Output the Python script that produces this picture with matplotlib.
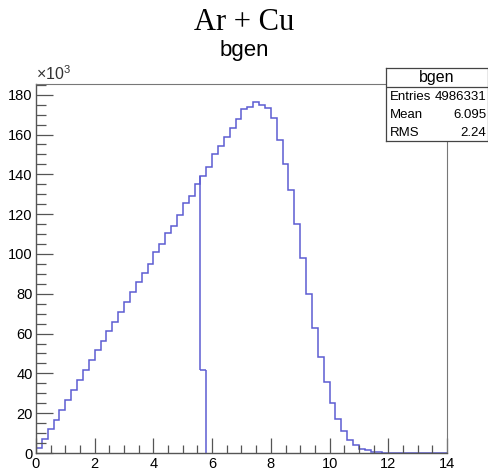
import matplotlib as mpl
mpl.use("Agg")
import matplotlib.pyplot as plt
import numpy as np
from matplotlib.ticker import MultipleLocator

# bin contents (in units of 10^3 entries), 0.2 wide bins from 0 to 14
counts = [2.5, 7.2, 11.9, 16.8, 21.6, 26.5, 31.5, 36.7, 41.9, 46.6,
          51.8, 56.1, 61.5, 66.0, 70.6, 75.7, 80.9, 86.1, 90.5, 95.0,
          101.0, 104.9, 110.4, 114.0, 119.8, 125.6, 129.0, 135.4, 139.0, 143.7,
          150.1, 154.1, 158.8, 163.5, 167.7, 172.6, 173.9, 176.5, 174.6, 173.1,
          168.1, 157.5, 145.1, 131.9, 114.9, 98.0, 79.7, 62.8, 48.2, 35.5,
          25.1, 17.3, 10.9, 6.7, 4.2, 2.2, 1.3, 0.7, 0.3, 0.1,
          0, 0, 0, 0, 0, 0, 0, 0, 0, 0]
edges = np.linspace(0, 14, 71)

# the odd partial bin drawn under the curve around b = 5.6 - 5.8
cut_lo, cut_hi = 5.6, 5.8
cut_val = 41.6

entries = 4986331
mean = 6.095
rms = 2.24

mpl.rcParams['font.family'] = ['Liberation Sans', 'DejaVu Sans']
mpl.rcParams['mathtext.fontset'] = 'custom'
mpl.rcParams['mathtext.rm'] = 'Liberation Sans'
mpl.rcParams['mathtext.it'] = 'Liberation Sans'

fontsize = 10.5
lcol = '#5c5cd2'
acol = '#555555'

fig = plt.figure(figsize=(4.89, 4.74), dpi=100)
ax = fig.add_axes([0.0736, 0.0443, 0.8405, 0.7785])

ax.stairs(counts, edges, color=lcol, linewidth=1.1, baseline=None)
i_cut = int(round(cut_lo / 0.2))
ax.vlines(cut_lo, cut_val, counts[i_cut], color=lcol, linewidth=1.1)
ax.hlines(cut_val, cut_lo, cut_hi, color=lcol, linewidth=1.1)
ax.vlines(cut_hi, 0, cut_val, color=lcol, linewidth=1.1)
ax.vlines(edges[0], 0, counts[0], color=lcol, linewidth=1.1)

ax.set_xlim(0, 14)
ax.set_ylim(0, 185.4)
ax.xaxis.set_major_locator(MultipleLocator(2))
ax.xaxis.set_minor_locator(MultipleLocator(0.5))
ax.yaxis.set_major_locator(MultipleLocator(20))
ax.yaxis.set_minor_locator(MultipleLocator(5))
ax.tick_params(which='both', direction='in', colors=acol, labelcolor='black',
               labelsize=fontsize, top=False, right=False)
ax.tick_params(axis='x', which='major', length=11, width=0.9, pad=3)
ax.tick_params(axis='x', which='minor', length=6, width=0.9)
ax.tick_params(axis='y', which='major', length=12, width=0.9, pad=2.5)
ax.tick_params(axis='y', which='minor', length=7, width=0.9)
for s in ['left', 'bottom']:
    ax.spines[s].set_color(acol)
    ax.spines[s].set_linewidth(1.0)
for s in ['top', 'right']:
    ax.spines[s].set_color('#777777')
    ax.spines[s].set_linewidth(0.8)

ax.text(0, 1.003, r"$\times10^{3}$", transform=ax.transAxes, ha='left', va='bottom',
        fontsize=11.5, color='#333333')

fig.text(0.5, 0.952, "Ar + Cu", ha='center', va='center', fontsize=22,
         family=['Liberation Serif', 'DejaVu Serif'])
fig.text(0.5, 0.893, "bgen", ha='center', va='center', fontsize=16)

# stats box
box = fig.add_axes([0.789, 0.7025, 0.209, 0.154])
box.set_xlim(0, 1)
box.set_ylim(0, 1)
box.set_xticks([])
box.set_yticks([])
box.set_facecolor('white')
for s in box.spines.values():
    s.set_linewidth(0.9)
    s.set_color('#444444')
box.axhline(0.74, color='#444444', linewidth=0.9)
box.text(0.5, 0.87, "bgen", ha='center', va='center', fontsize=11.5)
rows = [("Entries", str(entries)), ("Mean", f"{mean:.3f}"), ("RMS", f"{rms:.2f}")]
for k, (name, val) in enumerate(rows):
    yy = 0.60 - k * 0.245
    box.text(0.04, yy, name, ha='left', va='center', fontsize=9.5)
    box.text(0.985, yy, val, ha='right', va='center', fontsize=9.5)

fig.savefig("out.png", dpi=100)
